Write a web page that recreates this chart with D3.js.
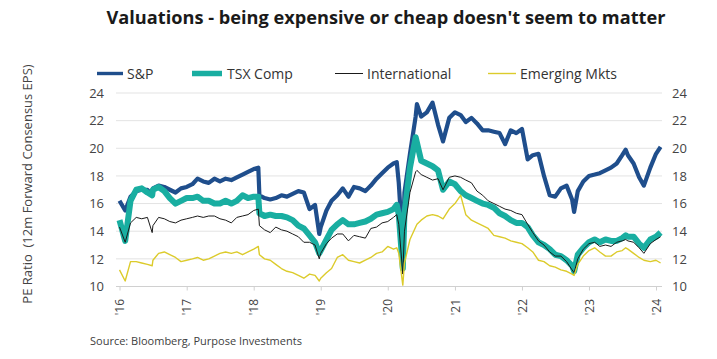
<!DOCTYPE html>
<html><head><meta charset="utf-8">
<script src="https://cdn.jsdelivr.net/npm/d3@7"></script>
<style>
body{margin:0;background:#fff;}
svg{display:block;}
text{font-family:"Open Sans",Lato,sans-serif;}
</style></head>
<body>
<svg id="chart" width="717" height="359"></svg>
<script>
const title = "Valuations - being expensive or cheap doesn't seem to matter";
const yTitle = "PE Ratio  (12m Forward Consensus EPS)";
const source = "Source: Bloomberg, Purpose Investments";
const seriesNames = ["S&P", "TSX Comp", "International", "Emerging Mkts"];
const yTicks = [10, 12, 14, 16, 18, 20, 22, 24];
const xTickYears = [2016, 2017, 2018, 2019, 2020, 2021, 2022, 2023, 2024];
const xTickLabels = ["'16", "'17", "'18", "'19", "'20", "'21", "'22", "'23", "'24"];

const dates = [
 "2016-01-01","2016-02-01","2016-03-01","2016-04-01","2016-05-01","2016-06-01","2016-06-27","2016-07-01","2016-08-01","2016-09-01","2016-10-01","2016-11-01","2016-12-01",
 "2017-01-01","2017-02-01","2017-03-01","2017-04-01","2017-05-01","2017-06-01","2017-07-01","2017-08-01","2017-09-01","2017-10-01","2017-11-01","2017-12-01",
 "2018-01-01","2018-01-26","2018-02-01","2018-03-01","2018-04-01","2018-05-01","2018-06-01","2018-07-01","2018-08-01","2018-09-01","2018-10-01","2018-11-01","2018-12-01","2018-12-24",
 "2019-01-01","2019-02-01","2019-03-01","2019-04-01","2019-05-01","2019-06-01","2019-07-01","2019-08-01","2019-09-01","2019-10-01","2019-11-01","2019-12-01",
 "2020-01-01","2020-02-01","2020-02-19","2020-03-01","2020-03-23","2020-04-01","2020-05-01","2020-06-01","2020-06-08","2020-07-01","2020-08-01","2020-09-01","2020-10-01","2020-10-28","2020-12-01",
 "2021-01-01","2021-02-01","2021-03-01","2021-04-01","2021-05-01","2021-06-01","2021-07-01","2021-08-01","2021-09-01","2021-10-01","2021-11-01","2021-12-01",
 "2022-01-01","2022-02-01","2022-03-01","2022-04-01","2022-05-01","2022-06-01","2022-07-01","2022-08-01","2022-09-01","2022-10-01","2022-10-12","2022-11-01","2022-12-01",
 "2023-01-01","2023-02-01","2023-03-01","2023-04-01","2023-05-01","2023-06-01","2023-07-01","2023-07-20","2023-08-01","2023-09-01","2023-10-01","2023-10-27","2023-12-01",
 "2024-01-01","2024-01-26"
];

const sp = [
 16.2,15.5,16.5,16.9,17.0,17.0,16.6,17.1,17.3,17.2,17.0,16.8,17.1,
 17.2,17.4,17.8,17.6,17.5,17.8,17.6,17.8,17.7,17.9,18.1,18.3,
 18.5,18.6,16.6,16.4,16.3,16.4,16.6,16.5,16.7,16.9,16.8,15.6,15.9,13.8,
 14.3,15.5,16.2,16.6,17.1,16.5,17.2,17.1,16.9,17.3,17.8,18.2,
 18.6,18.9,19.0,17.5,12.8,16.8,19.6,22.3,23.2,22.3,22.6,23.3,21.7,20.5,22.2,
 22.6,22.4,21.9,22.2,21.8,21.3,21.3,21.2,21.1,20.3,21.3,21.1,
 21.4,19.2,19.5,19.6,18.0,16.6,16.5,17.1,17.3,16.3,15.4,16.9,17.6,
 18.0,18.1,18.2,18.4,18.6,18.9,19.5,19.9,19.5,18.9,17.9,17.3,18.6,
 19.6,20.1
];
const tsx = [
 14.8,13.3,16.2,17.0,17.1,16.8,16.6,17.0,17.2,16.9,16.4,16.0,16.2,
 16.4,16.4,16.5,16.2,16.2,16.0,16.0,16.2,16.0,16.2,16.6,16.4,
 16.5,16.5,15.3,15.1,15.2,15.1,15.1,15.0,14.8,14.4,14.2,13.7,13.2,12.4,
 12.6,13.4,14.1,14.5,14.8,14.5,14.5,14.6,14.7,14.9,15.2,15.3,
 15.4,15.6,15.9,15.2,11.3,15.3,18.6,20.8,20.4,19.1,18.9,18.7,18.4,17.0,17.6,
 17.4,16.9,16.6,16.4,16.2,16.0,15.9,15.7,15.3,15.1,14.8,14.6,
 14.6,14.3,13.7,13.2,13.0,12.7,12.3,12.2,11.9,11.5,11.1,12.3,12.8,
 13.2,13.4,13.2,13.4,13.3,13.3,13.5,13.7,13.6,13.6,13.1,12.8,13.4,
 13.6,13.9
];
const intl = [
 14.3,13.2,14.6,15.0,14.9,15.0,13.9,14.4,15.0,14.9,14.7,14.6,14.8,
 14.9,15.0,15.1,15.0,15.1,15.1,14.9,14.8,14.6,15.0,15.1,15.2,
 15.5,15.6,14.4,14.1,13.9,14.3,14.1,14.0,13.8,13.6,13.2,13.2,13.0,12.0,
 12.4,13.1,13.5,13.8,13.8,13.3,13.7,13.6,13.5,14.2,14.3,14.6,
 14.7,15.0,15.2,14.5,10.9,14.0,16.8,18.3,18.4,18.1,17.9,17.7,17.8,17.0,17.9,
 18.0,17.9,17.7,17.5,16.9,16.6,16.2,16.0,15.8,15.6,15.5,15.3,
 15.2,14.5,13.9,13.3,13.0,12.5,12.2,12.2,11.8,11.2,11.0,12.0,12.7,
 13.1,13.2,12.9,13.0,12.9,13.2,13.3,13.4,13.3,13.2,12.8,12.4,13.1,
 13.4,13.6
];
const em = [
 11.2,10.4,11.8,11.8,11.7,11.6,11.5,11.9,12.4,12.5,12.3,12.1,11.8,
 11.9,12.0,12.1,11.9,12.0,12.2,12.4,12.5,12.4,12.5,12.3,12.5,
 12.7,12.9,12.3,12.0,11.9,11.6,11.3,11.1,11.0,10.8,10.6,10.9,10.8,10.4,
 10.6,11.0,11.3,12.1,12.3,11.9,11.8,11.7,11.9,12.1,12.4,12.5,
 12.9,12.7,12.8,12.4,10.1,11.7,13.4,14.3,14.5,14.8,15.1,15.2,15.1,14.9,15.6,
 16.0,16.6,15.2,14.8,14.6,14.4,14.2,13.7,13.6,13.5,13.3,13.2,
 13.1,12.8,12.5,11.9,11.8,11.5,11.4,11.2,11.1,10.9,10.8,11.6,12.2,
 12.6,12.8,12.5,12.2,12.2,12.5,12.6,12.8,12.7,12.4,12.1,11.9,11.8,
 11.9,11.7
];

const colors = ["#1f4e8c", "#19aea1", "#1a1a1a", "#dccb2b"];
const widths = [4.2, 6, 1, 1.4];
const values = [sp, tsx, intl, em];

const svg = d3.select("#chart");
const parse = d3.timeParse("%Y-%m-%d");
const dts = dates.map(parse);

const x = d3.scaleTime().domain([new Date(2016,0,1), new Date(2024,0,1)]).range([119.5, 656]);
const y = d3.scaleLinear().domain([10, 24]).range([286.5, 93]);

// title
svg.append("text").attr("x", 386).attr("y", 24).attr("text-anchor", "middle")
  .attr("font-size", 18.2).attr("font-weight", 700).attr("fill", "#1a1a1a").text(title);

// gridlines
svg.append("g").selectAll("line").data(yTicks).join("line")
  .attr("x1", 116).attr("x2", 662).attr("y1", d => y(d)).attr("y2", d => y(d))
  .attr("stroke", d => d === 10 ? "#d0d0d0" : "#e3e3e3").attr("stroke-width", 1);

// left axis
const yl = svg.append("g").attr("transform", "translate(104,0)")
  .call(d3.axisLeft(y).tickValues(yTicks).tickSize(0).tickPadding(0));
yl.select(".domain").remove();
yl.selectAll("text").attr("font-size", 13).attr("fill", "#444").attr("font-family", "Open Sans");

// right axis
const yr = svg.append("g").attr("transform", "translate(672,0)")
  .call(d3.axisRight(y).tickValues(yTicks).tickSize(0).tickPadding(0));
yr.select(".domain").remove();
yr.selectAll("text").attr("font-size", 13).attr("fill", "#444").attr("font-family", "Open Sans");

// x axis
const xa = svg.append("g").attr("transform", "translate(0,286.5)")
  .call(d3.axisBottom(x).tickValues(xTickYears.map(yy => new Date(yy,0,1)))
    .tickFormat((d, i) => xTickLabels[i]).tickSize(4).tickPadding(6));
xa.select(".domain").remove();
xa.selectAll("line").attr("stroke", "#d0d0d0");
xa.selectAll("text").attr("font-size", 12).attr("fill", "#444").attr("font-family", "Open Sans")
  .attr("transform", "rotate(-90)").attr("text-anchor", "end")
  .attr("x", -12.5).attr("y", 0).attr("dy", "0.35em");

// y title
svg.append("text").attr("transform", "translate(32,184) rotate(-90)")
  .attr("text-anchor", "middle").attr("font-size", 13).attr("fill", "#444")
  .attr("xml:space", "preserve").style("white-space", "pre").text(yTitle);

// lines
const line = d3.line().x((d, i) => x(dts[i])).y(d => y(d));
svg.append("g").selectAll("path").data(values).join("path")
  .attr("d", d => line(d)).attr("fill", "none")
  .attr("stroke", (d, i) => colors[i]).attr("stroke-width", (d, i) => widths[i])
  .attr("stroke-linejoin", "round");

// legend
const legX = [[97, 123, 127], [192, 222, 227], [335, 363, 367], [488, 516, 520]];
const lg = svg.append("g").selectAll("g").data(seriesNames).join("g");
lg.append("line").attr("x1", (d, i) => legX[i][0]).attr("x2", (d, i) => legX[i][1])
  .attr("y1", 73.5).attr("y2", 73.5)
  .attr("stroke", (d, i) => colors[i]).attr("stroke-width", (d, i) => i === 1 ? 5.5 : widths[i] - (i === 0 ? 0.8 : 0));
lg.append("text").attr("x", (d, i) => legX[i][2]).attr("y", 78.5)
  .attr("font-size", 14).attr("fill", "#333").text(d => d);

// source
svg.append("text").attr("x", 90).attr("y", 345).attr("font-size", 11)
  .attr("fill", "#404040").text(source);
</script>
</body></html>
